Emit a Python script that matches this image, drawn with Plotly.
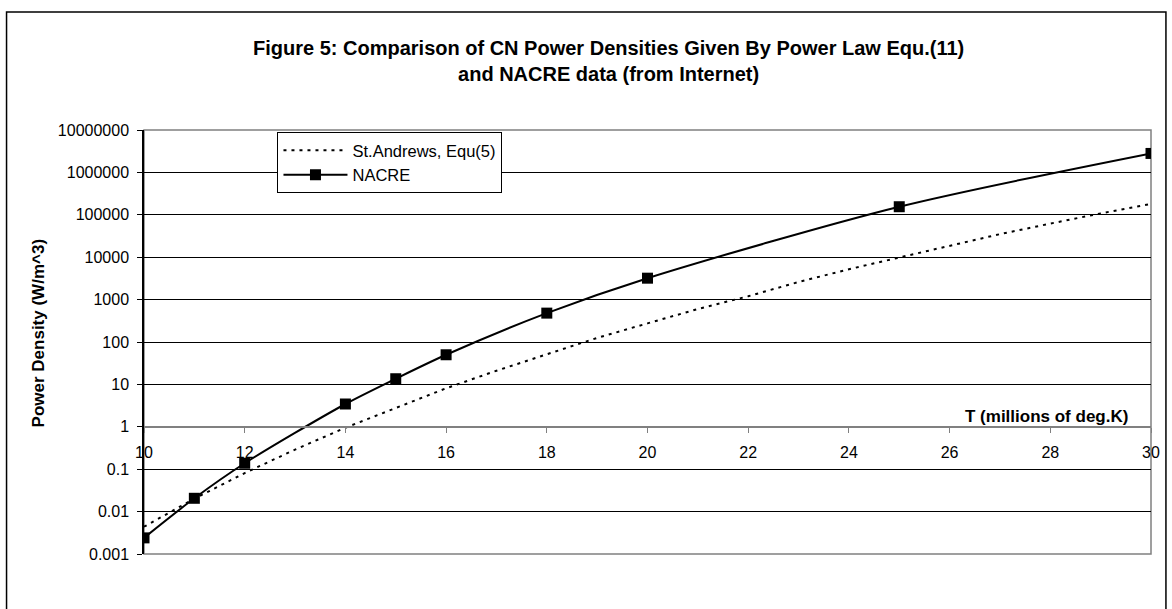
import plotly.graph_objects as go

# Temperature in millions of K
t_nacre = [10, 11, 12, 14, 15, 16, 18, 20, 25, 30]
p_nacre = [0.0024, 0.0206, 0.138, 3.45, 13.6, 50, 480, 3200, 155000, 2800000]

t_power = [10, 11, 12, 13, 14, 15, 16, 17, 18, 19, 20,
           21, 22, 23, 24, 25, 26, 27, 28, 29, 30]
p_power = [0.0044, 0.0202, 0.081, 0.29, 0.95, 2.8, 8.1, 21, 52, 125, 275,
           600, 1200, 2600, 5200, 9800, 19000, 35000, 62000, 108000, 180000]

y_tick_vals = [0.001, 0.01, 0.1, 1, 10, 100, 1000, 10000, 100000, 1000000, 10000000]
y_tick_text = ["0.001", "0.01", "0.1", "1", "10", "100", "1000", "10000",
               "100000", "1000000", "10000000"]
x_tick_vals = [10, 12, 14, 16, 18, 20, 22, 24, 26, 28, 30]

title_lines = ["Figure 5: Comparison of CN Power Densities Given By Power Law Equ.(11)",
               "and NACRE data (from Internet)"]
x_title = "T (millions of deg.K)"
y_title = "Power Density (W/m^3)"

FONT = "Liberation Sans, Arial, sans-serif"

# Plot-area geometry in pixels
W, H = 1172, 609
L, R, T, B = 144, 1155, 130, 554
PW, PH = R - L, B - T


def px(xp):
    return (xp - L) / PW


def py(yp):
    return (B - yp) / PH


fig = go.Figure()

fig.add_trace(go.Scatter(
    x=t_power, y=p_power, mode="lines", name="St.Andrews, Equ(5)",
    line=dict(color="black", width=2, dash="3px,5px"),
))
fig.add_trace(go.Scatter(
    x=t_nacre, y=p_nacre, mode="lines+markers", name="NACRE",
    line=dict(color="black", width=2, shape="spline", smoothing=0.8),
    marker=dict(symbol="square", size=11, color="black"),
))

fig.update_layout(
    width=W, height=H,
    margin=dict(l=L, r=W - R, t=T, b=H - B, pad=0),
    paper_bgcolor="white", plot_bgcolor="white",
    font=dict(family=FONT, size=16, color="black"),
    showlegend=True,
    legend=dict(
        x=px(278), y=py(132), xanchor="left", yanchor="top",
        bgcolor="white", bordercolor="black", borderwidth=1,
        font=dict(family=FONT, size=16.5, color="black"),
        itemwidth=64, tracegroupgap=0,
    ),
    xaxis=dict(
        range=[10, 30], tickvals=x_tick_vals,
        ticktext=[str(v) for v in x_tick_vals],
        anchor="free", position=0.3,
        showgrid=False, zeroline=False,
        showline=True, linecolor="#808080", linewidth=1.5,
        ticks="outside", ticklen=5, tickcolor="#808080", tickwidth=1,
        tickfont=dict(family=FONT, size=16, color="black"),
        ticklabelstandoff=6,
    ),
    yaxis=dict(
        type="log", range=[-3, 7],
        tickvals=y_tick_vals, ticktext=y_tick_text,
        showgrid=True, gridcolor="black", gridwidth=1,
        zeroline=False,
        showline=True, linecolor="black", linewidth=1.5,
        ticks="outside", ticklen=5, tickcolor="black", tickwidth=1,
        tickfont=dict(family=FONT, size=16, color="black"),
        ticklabelstandoff=5,
    ),
)

# Plot-area frame
fig.add_shape(type="rect", xref="paper", yref="paper",
              x0=0, x1=1, y0=0, y1=1,
              line=dict(color="#808080", width=1.5), layer="below")
# Chart frame
fig.add_shape(type="rect", xref="paper", yref="paper",
              x0=px(6), x1=px(1170), y0=py(612), y1=py(12),
              line=dict(color="black", width=1.5), layer="below")

fig.add_annotation(
    text="<b>" + title_lines[0] + "</b><br><b>" + title_lines[1] + "</b>",
    xref="paper", yref="paper", x=px(610), y=py(61),
    xanchor="center", yanchor="middle", showarrow=False,
    font=dict(family=FONT, size=20, color="black"), align="center",
)
fig.add_annotation(
    text="<b>" + x_title + "</b>",
    xref="paper", yref="paper", x=px(1134), y=py(416),
    xanchor="right", yanchor="middle", showarrow=False,
    font=dict(family=FONT, size=17, color="black"),
)
fig.add_annotation(
    text="<b>" + y_title + "</b>",
    xref="paper", yref="paper", x=px(38), y=py(333),
    xanchor="center", yanchor="middle", showarrow=False, textangle=-90,
    font=dict(family=FONT, size=17, color="black"),
)

fig.write_html("out.html")
